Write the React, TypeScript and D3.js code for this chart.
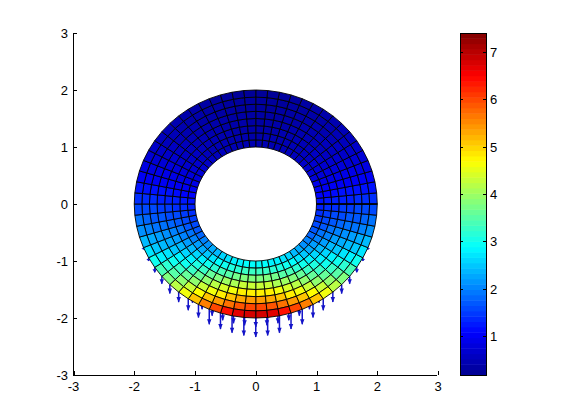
import React from "react";
import * as d3 from "d3";

const axisTicks = [-3, -2, -1, 0, 1, 2, 3];
const barTicks = [1, 2, 3, 4, 5, 6, 7];
const radii = [1, 1.125, 1.25, 1.375, 1.5, 1.625, 1.75, 1.875, 2];
const sectors = 64;
// cell values: row = sector counted from the bottom of the ring, column = inner to outer layer
const field = [
  [2.9, 3.3, 3.8, 4.3, 4.8, 5.4, 6.0, 6.8],
  [2.9, 3.3, 3.8, 4.3, 4.8, 5.3, 5.9, 6.7],
  [2.8, 3.2, 3.7, 4.1, 4.6, 5.1, 5.7, 6.4],
  [2.8, 3.1, 3.5, 4.0, 4.4, 4.8, 5.4, 6.0],
  [2.7, 3.0, 3.4, 3.8, 4.2, 4.6, 5.1, 5.6],
  [2.6, 2.9, 3.2, 3.6, 3.9, 4.3, 4.7, 5.1],
  [2.4, 2.7, 3.0, 3.3, 3.6, 3.9, 4.3, 4.6],
  [2.3, 2.5, 2.8, 3.1, 3.3, 3.6, 3.9, 4.2],
  [2.1, 2.3, 2.6, 2.8, 3.0, 3.3, 3.5, 3.8],
  [2.0, 2.2, 2.4, 2.6, 2.8, 3.0, 3.2, 3.4],
  [1.8, 2.0, 2.2, 2.4, 2.5, 2.7, 2.8, 3.0],
  [1.7, 1.9, 2.0, 2.2, 2.3, 2.4, 2.5, 2.7],
  [1.6, 1.7, 1.9, 2.0, 2.1, 2.2, 2.3, 2.4],
  [1.5, 1.6, 1.7, 1.8, 1.9, 1.9, 2.0, 2.1],
  [1.4, 1.5, 1.6, 1.6, 1.7, 1.7, 1.8, 1.9],
  [1.3, 1.4, 1.4, 1.5, 1.5, 1.6, 1.6, 1.6],
  [1.2, 1.25, 1.3, 1.3, 1.3, 1.4, 1.4, 1.4],
  [1.1, 1.1, 1.15, 1.2, 1.2, 1.2, 1.2, 1.2],
  [1.0, 1.0, 1.0, 1.0, 1.0, 1.0, 1.0, 1.0],
  [0.9, 0.9, 0.9, 0.9, 0.9, 0.9, 0.85, 0.85],
  [0.8, 0.8, 0.8, 0.8, 0.8, 0.75, 0.75, 0.75],
  [0.75, 0.75, 0.7, 0.7, 0.7, 0.65, 0.65, 0.65],
  [0.7, 0.7, 0.65, 0.6, 0.6, 0.6, 0.55, 0.55],
  [0.65, 0.6, 0.6, 0.55, 0.55, 0.5, 0.5, 0.5],
  [0.6, 0.55, 0.55, 0.5, 0.5, 0.45, 0.45, 0.45],
  [0.55, 0.5, 0.5, 0.5, 0.45, 0.45, 0.4, 0.4],
  [0.55, 0.5, 0.5, 0.45, 0.45, 0.4, 0.4, 0.4],
  [0.5, 0.5, 0.45, 0.45, 0.4, 0.4, 0.35, 0.35],
  [0.5, 0.45, 0.45, 0.4, 0.4, 0.35, 0.35, 0.3],
  [0.45, 0.45, 0.4, 0.4, 0.35, 0.35, 0.3, 0.3],
  [0.45, 0.45, 0.4, 0.4, 0.35, 0.3, 0.3, 0.25],
  [0.45, 0.4, 0.4, 0.35, 0.35, 0.3, 0.3, 0.25],
];
// downward load arrows, counted from the bottom node outward along the rim
const outerArrows = [19, 18, 17, 16, 15, 13, 11.5, 10, 9, 7.5, 5, 3, 1.5];
const innerArrows = [16, 15, 14.5, 14, 13, 11, 10, 8, 0, 0, 0, 0, 0];

const jetStops = ["#00008f", "#0000ff", "#00ffff", "#ffff00", "#ff0000", "#800000"];
const jetDomain = [0, 0.125, 0.375, 0.625, 0.875, 1];

const x = d3.scaleLinear().domain([-3, 3]).range([73.5, 438]);
const y = d3.scaleLinear().domain([-3, 3]).range([375, 33]);
const barY = d3.scaleLinear().domain([0.18, 7.4]).range([375, 33]);
const t = d3.scaleLinear().domain([0.18, 7.4]).range([0, 1]);
const jet = d3.scaleLinear<string>().domain(jetDomain).range(jetStops).interpolate(d3.interpolateRgb).clamp(true);
const color = (v: number) => jet(t(v));
const line = d3.line();

const rimPoint = (r: number, sector: number): [number, number] => {
  const a = (sector / sectors) * 2 * Math.PI;
  return [x(r * Math.sin(a)), y(-r * Math.cos(a))];
};

function Arrow({ r, k, len }: { r: number; k: number; len: number }) {
  if (!len) return null;
  const [px, py] = rimPoint(r, k);
  const tip = py + len;
  const h = Math.min(5, len * 0.6);
  return (
    <g>
      <path d={line([[px, py], [px, tip]]) ?? ""} stroke="#1414c8" strokeWidth={1.5} fill="none" />
      <path d={(line([[px - 2.2, tip - h], [px, tip + 0.5], [px + 2.2, tip - h]]) ?? "") + "Z"} fill="#1414c8" stroke="none" />
    </g>
  );
}

export default function App() {
  const cells: React.ReactElement[] = [];
  field.forEach((row, k) => {
    row.forEach((v, j) => {
      [k, -k - 1].forEach((s) => {
        const pts = [rimPoint(radii[j], s), rimPoint(radii[j], s + 1), rimPoint(radii[j + 1], s + 1), rimPoint(radii[j + 1], s)];
        cells.push(<path key={`${k}-${j}-${s}`} d={(line(pts) ?? "") + "Z"} fill={color(v)} stroke="#000" strokeWidth={0.9} />);
      });
    });
  });
  const barSteps = d3.range(0, 64);
  return (
    <svg width={561} height={420} style={{ position: "absolute", left: 0, top: 0, background: "#fff" }} fontFamily="'Liberation Sans', Arial, sans-serif" fontSize={13}>
      <rect x={73} y={33} width={364} height={342} fill="#fff" />
      {innerArrows.map((l, i) => (i === 0 ? <Arrow key={`a${i}`} r={1.875} k={0} len={l} /> : [i, -i].map((k) => <Arrow key={`a${k}`} r={1.875} k={k} len={l} />)))}
      {outerArrows.map((l, i) => (i === 0 ? <Arrow key={`b${i}`} r={2} k={0} len={l} /> : [i, -i].map((k) => <Arrow key={`b${k}`} r={2} k={k} len={l} />)))}
      {cells}
      <path d={line([rimPoint(1, 16), rimPoint(2, 16)]) ?? ""} stroke="#000" strokeWidth={1.6} />
      <path d={`M73.5,33V375.5H437`} fill="none" stroke="#000" />
      {axisTicks.map((v) => (
        <g key={v}>
          <path d={`M${Math.round(x(v)) + 0.5},375V371`} stroke="#000" />
          <path d={`M73,${Math.round(y(v)) + 0.5}H77`} stroke="#000" />
          <text x={x(v)} y={391} textAnchor="middle">{v}</text>
          <text x={68} y={y(v) + 5} textAnchor="end">{v}</text>
        </g>
      ))}
      {barSteps.map((i) => {
        const h = 342 / 64;
        return <rect key={i} x={460} y={375 - (i + 1) * h} width={26} height={h + 0.5} fill={jet((i + 0.5) / 64)} />;
      })}
      <rect x={460.5} y={33.5} width={26} height={342} fill="none" stroke="#000" />
      {barTicks.map((v) => {
        const py = Math.round(barY(v)) + 0.5;
        return (
          <g key={v}>
            <path d={`M460,${py}H463M486,${py}H483`} stroke="#000" />
            <text x={490} y={py + 4.5}>{v}</text>
          </g>
        );
      })}
    </svg>
  );
}
